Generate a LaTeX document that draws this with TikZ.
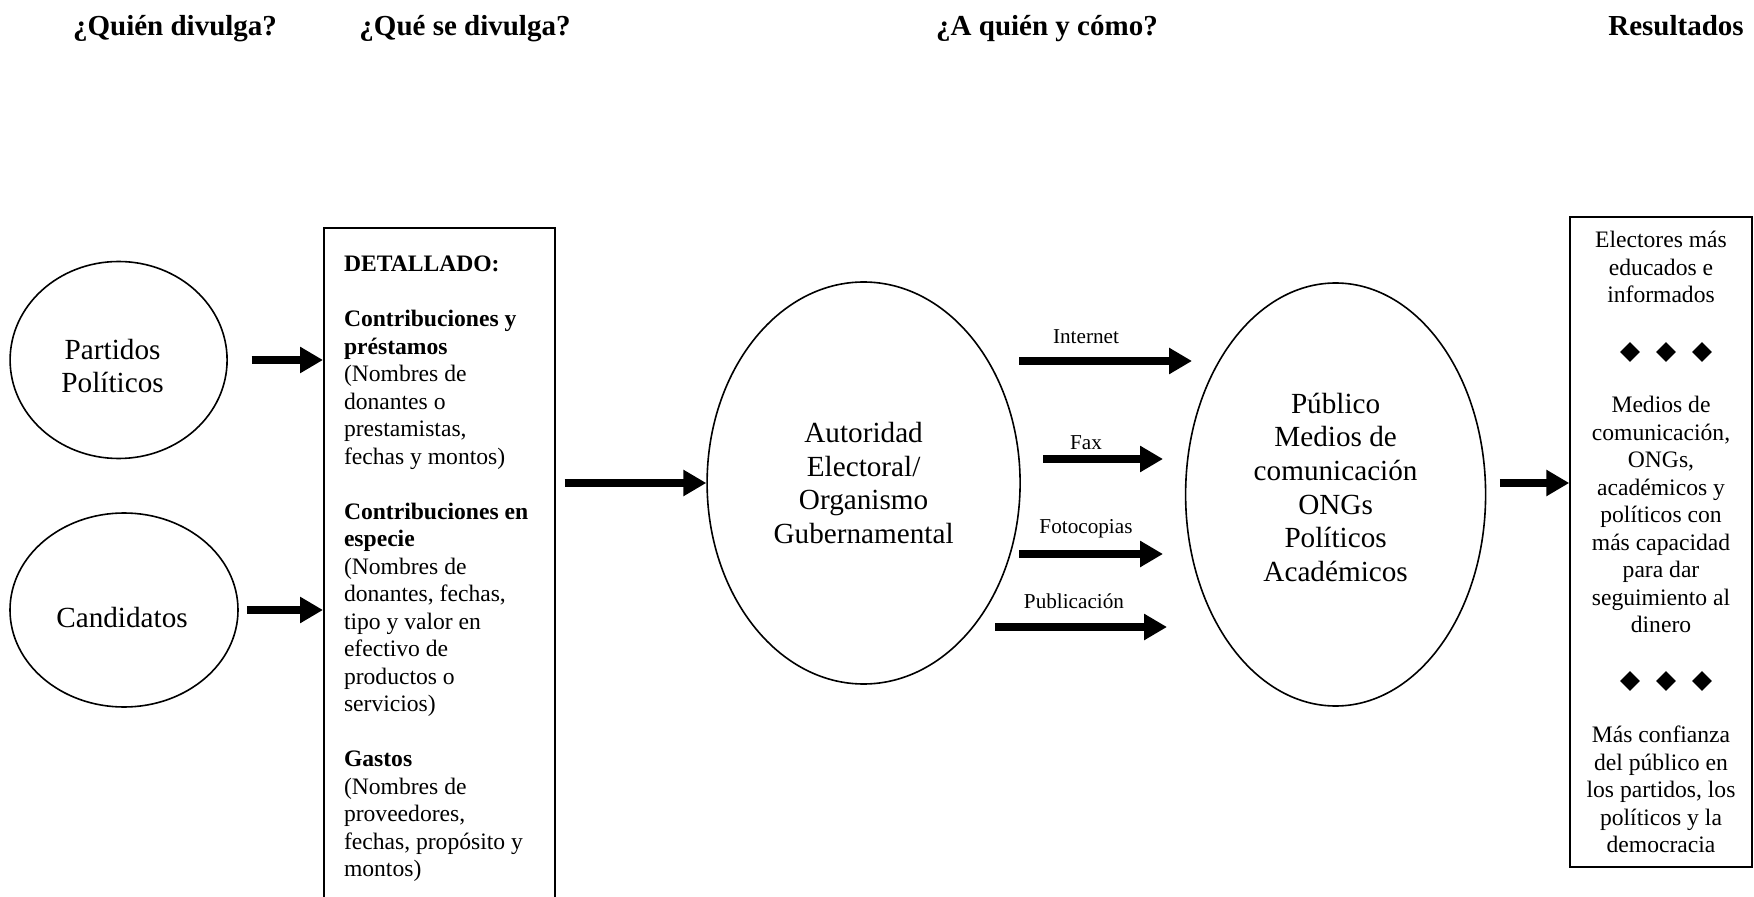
\documentclass[tikz,border=0pt]{standalone}
\usepackage{fontspec}
\setmainfont{Liberation Serif}
\usetikzlibrary{arrows.meta}
\usetikzlibrary{shapes.geometric}
\tikzset {
  % thick arrow with a solid triangle head
  big arr/.style = {
    draw = black,
    line width = 4.3pt,
    -{Triangle[length = 11.5pt, width = 12.5pt]}
  },
  % column titles
  heading/.style = {
    font = \fontsize{14.5}{16.8}\selectfont\bfseries,
    anchor = base
  },
  % label over a channel arrow
  channel/.style = {
    font = \fontsize{10.6}{12}\selectfont,
    anchor = base
  }
}
\tikzset {
  big text/.style = {
    font = \fontsize{14.6}{16.8}\selectfont,
    align = center
  },
  % who discloses, who receives
  actor/.style = {
    big text,
    draw = black,
    line width = 0.8pt,
    ellipse,
    inner sep = 0
  },
  % boxes with running text
  info box/.style = {
    draw = black,
    line width = 1pt,
    rectangle,
    font = \fontsize{11.8}{13.75}\selectfont
  },
  % separator between results
  rombo/.style = {
    diamond,
    fill = black,
    minimum size = 10pt,
    inner sep = 0
  }
}
\begin{document}
\begin{tikzpicture}[x = 0.5pt, y = -0.5pt]
    \path[use as bounding box, clip] (0,0) rectangle (1754,897);

    \node[heading] (quien) at (175,36) {¿Quién divulga?};
    \node[heading] (que) at (465,36) {¿Qué se divulga?};
    \node[heading] (como) at (1047,36) {¿A quién y cómo?};
    \node[heading] (resultados-title) at (1676,36) {Resultados};

    \node[actor, minimum width = 108.5pt, minimum height = 98.5pt] (partidos) at (118.6,360) {};
    \node[big text] (partidos-text) at ([shift = {(-3pt,-3pt)}]partidos.center) {Partidos\\Políticos};
    \node[actor, minimum width = 114pt, minimum height = 97pt] (candidatos) at (124,610) {};
    \node[big text] (candidatos-text) at ([shift = {(-1pt,-3.9pt)}]candidatos.center) {Candidatos};

    \node[info box, anchor = north west, align = flush left, text width = 95.5pt,
      inner xsep = 10pt, inner ysep = 14pt] (detalle) at (323,227) {%
      \textbf{DETALLADO:}\\[\baselineskip]
      \textbf{Contribuciones y}\\\textbf{préstamos}\\(Nombres de\\donantes o\\prestamistas,\\fechas y montos)\\[\baselineskip]
      \textbf{Contribuciones en}\\\textbf{especie}\\(Nombres de\\donantes, fechas,\\tipo y valor en\\efectivo de\\productos o\\servicios)\\[\baselineskip]
      \textbf{Gastos}\\(Nombres de\\proveedores,\\fechas, propósito y\\montos)};

    \node[actor, minimum width = 156.5pt, minimum height = 201pt] (autoridad) at (863.6,483) {Autoridad\\Electoral/\\Organismo\\Gubernamental};
    \node[actor, minimum width = 150pt, minimum height = 211.5pt] (publico) at (1335.6,494.5) {};
    \node[big text] (publico-text) at ([yshift = 3.6pt]publico.center) {Público\\Medios de\\comunicación\\ONGs\\Políticos\\Académicos};

    \node[info box, align = center, minimum width = 90.75pt, minimum height = 325pt, inner sep = 0] (resultados) at (1661,542) {%
      Electores más\\educados e\\informados\\[3\baselineskip]
      Medios de\\comunicación,\\ONGs,\\académicos y\\políticos con\\más capacidad\\para dar\\seguimiento al\\dinero\\[3\baselineskip]
      Más confianza\\del público en\\los partidos, los\\políticos y la\\democracia};
    \node[rombo] (rombo-1a) at (1630,352) {};
    \node[rombo] (rombo-1b) at (1666,352) {};
    \node[rombo] (rombo-1c) at (1702,352) {};
    \node[rombo] (rombo-2a) at (1630,681) {};
    \node[rombo] (rombo-2b) at (1666,681) {};
    \node[rombo] (rombo-2c) at (1702,681) {};

    \node[channel] (internet) at (1086,344) {Internet};
    \node[channel] (fax) at (1086,450) {Fax};
    \node[channel] (fotocopias) at (1086,533) {Fotocopias};
    \node[channel] (publicacion) at (1074,608) {Publicación};
    \coordinate (internet-start) at (1019,361);
    \coordinate (internet-end) at (1192,361);
    \coordinate (fax-start) at (1043,459);
    \coordinate (fax-end) at (1163,459);
    \coordinate (fotocopias-start) at (1019,554);
    \coordinate (fotocopias-end) at (1163,554);
    \coordinate (publicacion-start) at (995,627);
    \coordinate (publicacion-end) at (1167,627);

    \draw[big arr, shorten < = 11.8pt] (partidos.east)
    -- (partidos.east -| detalle.west);

    \draw[big arr, shorten < = 4pt] (candidatos.east)
    -- (candidatos.east -| detalle.west);

    \draw[big arr, shorten < = 4.3pt] (autoridad.west -| detalle.east)
    -- (autoridad.west);

    \draw[big arr] (internet-start) -- (internet-end);
    \draw[big arr] (fax-start) -- (fax-end);
    \draw[big arr] (fotocopias-start) -- (fotocopias-end);
    \draw[big arr] (publicacion-start) -- (publicacion-end);

    \draw[big arr, shorten < = 6.7pt] ([yshift = 5.75pt]publico.east)
    -- ([yshift = 5.75pt]publico.east -| resultados.west);
  \end{tikzpicture}
\end{document}
